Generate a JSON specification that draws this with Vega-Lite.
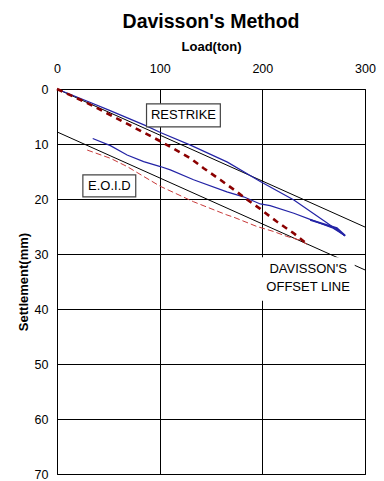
{
  "$schema": "https://vega.github.io/schema/vega-lite/v6.json",
  "width": 308,
  "height": 385,
  "autosize": {"type": "none"},
  "padding": {"left": 57, "top": 89, "right": 19, "bottom": 7},
  "background": "white",
  "title": {"text": "Davisson's Method", "fontSize": 19.5, "fontWeight": "bold", "font": "Liberation Sans", "color": "black", "anchor": "middle", "offset": 8},
  "config": {
    "view": {"stroke": "black", "strokeWidth": 1},
    "font": "Liberation Sans",
    "axis": {"domain": false, "ticks": false, "tickSize": 0, "grid": true, "gridColor": "black", "gridOpacity": 1, "gridWidth": 1, "labelFlush": false, "labelOverlap": false,
      "labelFont": "Liberation Sans", "labelFontSize": 12.5, "labelColor": "black",
      "titleFont": "Liberation Sans", "titleFontSize": 13, "titleFontWeight": "bold", "titleColor": "black"}
  },
  "datasets": {
    "curves": [
      {"series": "EL", "i": 0, "load": 0, "s": 0},
      {"series": "EL", "i": 1, "load": 300, "s": 25.1},
      {"series": "OFF", "i": 0, "load": 0, "s": 7.8},
      {"series": "OFF", "i": 1, "load": 300, "s": 32.9},
      {"series": "R", "i": 0, "load": 0, "s": 0},
      {"series": "R", "i": 1, "load": 20, "s": 1.5},
      {"series": "R", "i": 2, "load": 50, "s": 3.8},
      {"series": "R", "i": 3, "load": 87, "s": 6.7},
      {"series": "R", "i": 4, "load": 100.7, "s": 7.9},
      {"series": "R", "i": 5, "load": 130, "s": 10.2},
      {"series": "R", "i": 6, "load": 166, "s": 13.3},
      {"series": "R", "i": 7, "load": 198, "s": 16.8},
      {"series": "R", "i": 8, "load": 230.7, "s": 20.2},
      {"series": "R", "i": 9, "load": 262.8, "s": 24.3},
      {"series": "R", "i": 10, "load": 280.6, "s": 26.7},
      {"series": "Ru", "i": 0, "load": 280.6, "s": 26.7},
      {"series": "Ru", "i": 1, "load": 269, "s": 25.3},
      {"series": "Ru", "i": 2, "load": 246.5, "s": 23.7},
      {"series": "Ru", "i": 3, "load": 230.7, "s": 22.6},
      {"series": "Ru", "i": 4, "load": 207.6, "s": 21.2},
      {"series": "Ru", "i": 5, "load": 198, "s": 20.9},
      {"series": "Ru", "i": 6, "load": 181.7, "s": 19.6},
      {"series": "Ru", "i": 7, "load": 165.5, "s": 18.7},
      {"series": "Ru", "i": 8, "load": 133, "s": 16.5},
      {"series": "Ru", "i": 9, "load": 110.4, "s": 14.7},
      {"series": "Ru", "i": 10, "load": 100.7, "s": 14.1},
      {"series": "Ru", "i": 11, "load": 84.4, "s": 13.2},
      {"series": "Ru", "i": 12, "load": 68.3, "s": 12.0},
      {"series": "Ru", "i": 13, "load": 52, "s": 10.3},
      {"series": "Ru", "i": 14, "load": 34.8, "s": 9.0},
      {"series": "Rb", "i": 0, "load": 246.6, "s": 23.8},
      {"series": "Rb", "i": 1, "load": 272.5, "s": 25.3},
      {"series": "Rb", "i": 2, "load": 280.6, "s": 26.7},
      {"series": "T", "i": 0, "load": 0, "s": 0},
      {"series": "T", "i": 1, "load": 30, "s": 2.6},
      {"series": "T", "i": 2, "load": 63, "s": 5.8},
      {"series": "T", "i": 3, "load": 100.7, "s": 9.5},
      {"series": "T", "i": 4, "load": 130, "s": 12.6},
      {"series": "T", "i": 5, "load": 142.8, "s": 14.4},
      {"series": "T", "i": 6, "load": 159, "s": 16.5},
      {"series": "T", "i": 7, "load": 175.2, "s": 18.7},
      {"series": "T", "i": 8, "load": 185, "s": 20.1},
      {"series": "T", "i": 9, "load": 198, "s": 21.8},
      {"series": "T", "i": 10, "load": 207.6, "s": 23.2},
      {"series": "T", "i": 11, "load": 214, "s": 24.1},
      {"series": "T", "i": 12, "load": 230.3, "s": 26.2},
      {"series": "T", "i": 13, "load": 245, "s": 28.4},
      {"series": "F", "i": 0, "load": 29.4, "s": 11.1},
      {"series": "F", "i": 1, "load": 52, "s": 12.6},
      {"series": "F", "i": 2, "load": 68.3, "s": 14.1},
      {"series": "F", "i": 3, "load": 84.4, "s": 15.9},
      {"series": "F", "i": 4, "load": 100.7, "s": 17.7},
      {"series": "F", "i": 5, "load": 133, "s": 20.5},
      {"series": "F", "i": 6, "load": 165.5, "s": 22.9},
      {"series": "F", "i": 7, "load": 172, "s": 23.3},
      {"series": "F", "i": 8, "load": 194.7, "s": 25.0},
      {"series": "F", "i": 9, "load": 210.8, "s": 25.9},
      {"series": "F", "i": 10, "load": 223.9, "s": 26.8},
      {"series": "F", "i": 11, "load": 236.8, "s": 27.5},
      {"series": "F", "i": 12, "load": 245, "s": 28.4}
    ],
    "boxes": [
      {"name": "RESTRIKE", "load": 87.2, "load2": 159.1, "s": 2.7, "s2": 6.9, "border": "yes"},
      {"name": "EOID", "load": 25.2, "load2": 76.7, "s": 15.6, "s2": 19.6, "border": "yes"},
      {"name": "DAV", "load": 196, "load2": 290, "s": 30.6, "s2": 38.5, "border": "no"}
    ],
    "labels": [
      {"label": "RESTRIKE", "load": 123.2, "s": 4.8},
      {"label": "E.O.I.D", "load": 51, "s": 17.6},
      {"label": "DAVISSON'S", "load": 244.6, "s": 32.7},
      {"label": "OFFSET LINE", "load": 244.6, "s": 36.0}
    ]
  },
  "encoding": {
    "x": {"field": "load", "type": "quantitative", "scale": {"domain": [0, 300], "nice": false, "zero": false},
      "axis": {"orient": "top", "title": "Load(ton)", "values": [0, 100, 200, 300], "labelPadding": 14, "titlePadding": 9}},
    "y": {"field": "s", "type": "quantitative", "scale": {"domain": [0, 70], "nice": false, "reverse": true},
      "axis": {"title": "Settlement(mm)", "values": [0, 10, 20, 30, 40, 50, 60, 70], "labelPadding": 9, "titlePadding": 4}}
  },
  "layer": [
    {"data": {"name": "curves"}, "transform": [{"filter": "datum.series === 'EL' || datum.series === 'OFF'"}],
      "mark": {"type": "line", "color": "black", "strokeWidth": 1},
      "encoding": {"detail": {"field": "series"}, "order": {"field": "i", "type": "quantitative"}}},
    {"data": {"name": "curves"}, "transform": [{"filter": "datum.series === 'R' || datum.series === 'Ru'"}],
      "mark": {"type": "line", "color": "#2323a6", "strokeWidth": 1.2},
      "encoding": {"detail": {"field": "series"}, "order": {"field": "i", "type": "quantitative"}}},
    {"data": {"name": "curves"}, "transform": [{"filter": "datum.series === 'Rb'"}],
      "mark": {"type": "line", "color": "#2323a6", "strokeWidth": 2},
      "encoding": {"order": {"field": "i", "type": "quantitative"}}},
    {"data": {"name": "curves"}, "transform": [{"filter": "datum.series === 'F'"}],
      "mark": {"type": "line", "color": "#c83a3a", "strokeWidth": 1, "strokeDash": [6, 3]},
      "encoding": {"order": {"field": "i", "type": "quantitative"}}},
    {"data": {"name": "curves"}, "transform": [{"filter": "datum.series === 'T'"}],
      "mark": {"type": "line", "color": "#8b0000", "strokeWidth": 2.6, "strokeDash": [6, 5]},
      "encoding": {"order": {"field": "i", "type": "quantitative"}}},
    {"data": {"name": "boxes"}, "transform": [{"filter": "datum.border === 'yes'"}],
      "mark": {"type": "rect", "fill": "white", "stroke": "#444444", "strokeWidth": 1.2},
      "encoding": {"x2": {"field": "load2"}, "y2": {"field": "s2"}}},
    {"data": {"name": "boxes"}, "transform": [{"filter": "datum.border === 'no'"}],
      "mark": {"type": "rect", "fill": "white", "strokeWidth": 0},
      "encoding": {"x2": {"field": "load2"}, "y2": {"field": "s2"}}},
    {"data": {"name": "labels"},
      "mark": {"type": "text", "font": "Liberation Sans", "fontSize": 13, "color": "black", "align": "center", "baseline": "middle"},
      "encoding": {"text": {"field": "label"}}}
  ]
}
